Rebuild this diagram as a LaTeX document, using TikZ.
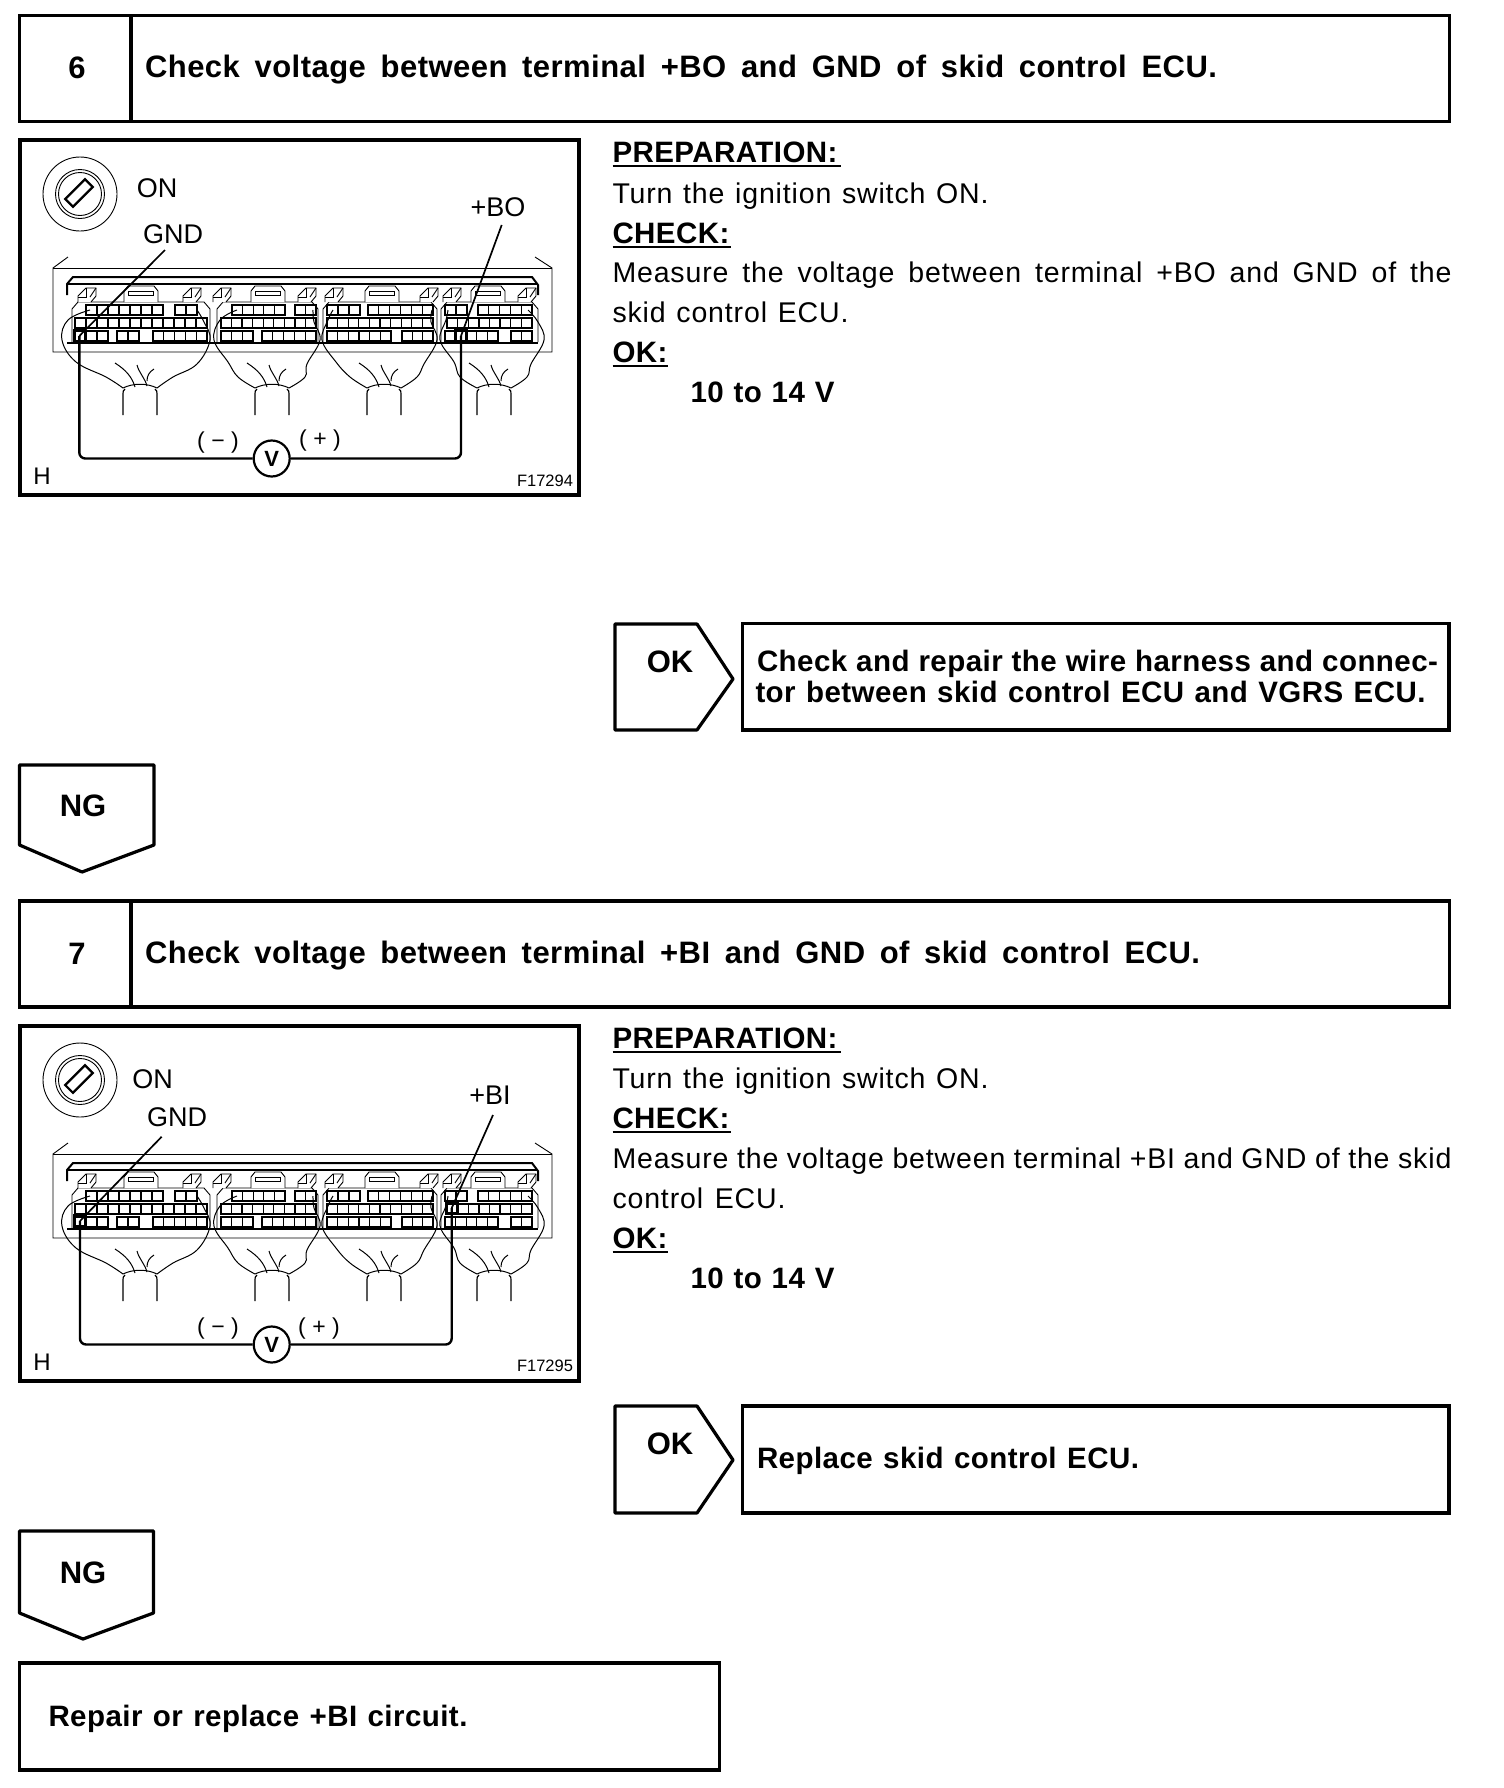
\documentclass[tikz,border=0pt]{standalone}
\usepackage{fontspec}
\setmainfont{Liberation Sans}
\newfontfamily\spaced[LetterSpace=3]{Liberation Sans}
\newfontfamily\tight[LetterSpace=1.5]{Liberation Sans}
\tikzset{
  boxst/.style={draw=black,line width=3.2,rectangle,inner sep=0,outer sep=0},
  frame/.style={draw=black,line width=3.2},
  thinl/.style={draw=black,line width=0.9},
  wire/.style={draw=black,line width=1},
  cellst/.style={draw=black,line width=1.3},
  thick2/.style={draw=black,line width=2},
  leader/.style={draw=black,line width=1.7},
  probe/.style={draw=black,line width=2.4,rounded corners=6},
  pinbox/.style={draw=black,line width=2.6,rectangle,inner sep=0,minimum size=11},
  meter/.style={draw=black,fill=white,line width=2.2,circle,inner sep=0,minimum size=36,font=\fontsize{22}{22}\selectfont\bfseries},
  txt/.style={anchor=base west,inner sep=0,outer sep=0},
  lab/.style={anchor=center,inner sep=0,outer sep=0},
  ul/.style={draw=black,line width=2}
}
\newcommand{\bodyfont}{\spaced\fontsize{28.5}{28.5}\selectfont}
\newcommand{\boldfont}{\tight\fontsize{29.5}{29.5}\selectfont\bfseries}
\newcommand{\headfont}{\tight\fontsize{31}{31}\selectfont\bfseries}
\newcommand{\labfont}{\fontsize{27}{27}\selectfont}
\newcommand{\boxlabfont}{\fontsize{31}{31}\selectfont\bfseries}
\newcommand{\txr}[5]{\node[txt,font=\bodyfont] (#1) at (#2,#3) {\makebox[#4pt][s]{\spaceskip=.278em plus 1em minus .12em\relax #5}};}
\newcommand{\txb}[5]{\node[txt,font=\boldfont] (#1) at (#2,#3) {\makebox[#4pt][s]{\spaceskip=.278em plus 1em minus .12em\relax #5}};}
\newcommand{\txh}[5]{\node[txt,font=\headfont] (#1) at (#2,#3) {\makebox[#4pt][s]{\spaceskip=.278em plus 1em minus .12em\relax #5}};}
\newcommand{\cells}[4]{%
  \draw[cellst] (#1,#3) rectangle (#2,{#3+10});
  \foreach \i in {1,...,#4} {\draw[cellst] ({#1+(\i-1)*(#2-#1)/#4},#3) -- ++(0,10);}
}
\newcommand{\blockline}[2]{\draw[thinl] (#1,342) -- (#1,309) -- ({#1+6},302) -- ({#2-6},302) -- (#2,309) -- (#2,342);}
\newcommand{\latch}[1]{%
  \draw[thinl,fill=white] ({#1-17},302) -- ({#1-17},291) -- ({#1-13},286) -- ({#1+13},286) -- ({#1+17},291) -- ({#1+17},302);
  \draw[thinl] ({#1-13},291) rectangle ({#1+12},295);
}
\newcommand{\clipshape}[1]{%
  \draw[thinl,fill=white] ({#1-10},302) -- ({#1-10},296) -- ({#1-2},288) -- ({#1+8},288) -- ({#1+8},296) -- ({#1+3},302);
  \draw[thinl] ({#1-2},288) -- ({#1-2},297) -- ({#1-10},297);
  \draw[thinl] ({#1+8},288) -- ({#1+2},297);
}
\newcommand{\harness}[5]{%
  \draw[wire] plot[smooth,tension=.65] coordinates {(#1,310) ({#2+6},320) (#2,340) ({#2+14},362) ({#3-17},377) (#3,388)};
  \draw[wire] plot[smooth,tension=.65] coordinates {(#4,310) ({#5-6},322) (#5,340) ({#5-13},364) ({#3+50},377) ({#3+34},388)};
  \draw[wire] (#3,388) .. controls ({#3+10},383) and ({#3+24},383) .. ({#3+34},388);
  \draw[wire,line width=1.2] (#3,415) -- (#3,394) .. controls (#3,391) .. ({#3+2},389);
  \draw[wire,line width=1.2] ({#3+34},415) -- ({#3+34},394) .. controls ({#3+34},391) .. ({#3+32},389);
  \draw[wire] ({#3-8},363) .. controls ({#3+3},370) and ({#3+9},377) .. ({#3+12},387);
  \draw[wire] ({#3+14},365) .. controls ({#3+16},373) and ({#3+22},378) .. ({#3+24},386);
  \draw[wire] ({#3+31},369) .. controls ({#3+26},372) and ({#3+24},376) .. ({#3+24},381);
}
\newcommand{\ecu}{%
  % housing
  \draw[thinl] (68,257) -- (53,268) -- (53,352) -- (552,352) -- (552,268) -- (535,257);
  \draw[thinl] (53,268) -- (552,268);
  \draw[thick2] (67,295) -- (67,284) -- (73,277) -- (532,277) -- (538,285) -- (538,295);
  \draw[thick2] (67,284) -- (538,284);
  \draw[thick2] (67,343) -- (538,343);
  % blocks
  \blockline{72}{210}\blockline{217}{318}\blockline{323}{437}\blockline{441}{538}
  \latch{141}\latch{268}\latch{382}\latch{488}
  \clipshape{88}\clipshape{193}\clipshape{223}\clipshape{308}\clipshape{335}\clipshape{430}\clipshape{453}\clipshape{528}
  % pins block 1
  \cells{86}{163}{305}{7}\cells{175}{197}{305}{2}
  \cells{75}{207}{318}{12}
  \cells{75}{108}{331}{3}\cells{117}{139}{331}{2}\cells{153}{207}{331}{5}
  % block 2
  \cells{232}{285}{305}{5}\cells{295}{316}{305}{2}
  \cells{221}{316}{318}{9}
  \cells{221}{253}{331}{3}\cells{262}{316}{331}{5}
  % block 3
  \cells{327}{360}{305}{3}\cells{368}{433}{305}{6}
  \cells{327}{433}{318}{10}
  \cells{327}{391}{331}{6}\cells{402}{433}{331}{3}
  % block 4
  \cells{445}{467}{305}{2}\cells{478}{532}{305}{5}
  \cells{447}{532}{318}{8}
  \cells{445}{498}{331}{5}\cells{511}{532}{331}{2}
  % harness
  \harness{90}{62}{123}{197}{210}
  \harness{237}{214}{255}{313}{320}
  \harness{333}{322}{367}{432}{437}
  \harness{448}{440}{477}{528}{544}
  % key switch
  \draw[thinl] (80,194) circle (37);
  \draw[thinl] (80,194) circle (24.5);
  \draw[thinl] (80,194) circle (21.5);
  \draw[draw=black,line width=2.2,rotate around={45:(79,193)}] (65,187.5) rectangle (93,198.5);
}
\begin{document}
\begin{tikzpicture}[x=1pt,y=-1pt]
\useasboundingbox (0,0) rectangle (1504,1788);

% ---------- step 6 ----------
\node[boxst,minimum width=1430,minimum height=106] (head6) at (734.5,68.5) {};
\draw[frame] (131,15.5) -- (131,121.5);
\node[lab,font=\boxlabfont] (n6) at (77,68) {6};
\txh{t6}{145}{77.5}{1072}{Check voltage between terminal +BO and GND of skid control ECU.}

\node[boxst,minimum width=559,minimum height=355] (fig6) at (299.5,317.5) {};
\begin{scope}\ecu\end{scope}
\node[lab,font=\labfont] (on6) at (157,188) {ON};
\node[lab,font=\labfont] (gnd6) at (173,234) {GND};
\node[lab,font=\labfont] (bo6) at (498,207) {+BO};
\node[pinbox] (gp6) at (79.3,336) {};
\node[pinbox] (bp6) at (461,336) {};
\coordinate (gl6) at (165,250);
\coordinate (bl6) at (501.7,225);
\draw[leader] (gl6) -- (gp6.center);
\draw[leader] (bl6) -- (bp6.center);
\node[meter] (vm6) at (271.7,458.5) {V};
\draw[probe] (gp6.center) |- (vm6.west);
\draw[probe] (bp6.center) |- (vm6.east);
\node[lab,font=\fontsize{23}{23}\selectfont] (neg6) at (218,443) {(\;−\;)};
\node[lab,font=\fontsize{23}{23}\selectfont] (pos6) at (320,441) {(\;+\;)};
\node[lab,font=\fontsize{24}{24}\selectfont] (h6) at (42,476) {H};
\node[lab,font=\fontsize{16.5}{16.5}\selectfont] (f6) at (545,480.5) {F17294};

\txb{p6}{612.5}{162}{227}{PREPARATION:}
\draw[ul] (p6.base west)++(0,3.5) -- ++(228,0);
\txr{a6}{612.5}{203}{376}{Turn the ignition switch ON.}
\txb{c6}{612.5}{243}{117}{CHECK:}
\draw[ul] (c6.base west)++(0,3.5) -- ++(118,0);
\txr{m6}{612.5}{282.5}{839}{Measure the voltage between terminal +BO and GND of the}
\txr{s6}{612.5}{322}{236}{skid control ECU.}
\txb{o6}{612.5}{362}{55}{OK:}
\draw[ul] (o6.base west)++(0,3.5) -- ++(55,0);
\txb{v6}{690.5}{402}{144}{10 to 14 V}

% OK 6
\draw[frame,line join=round] (615,624) -- (697,624) -- (733,679) -- (697,730) -- (615,730) -- cycle;
\node[lab,font=\boxlabfont] (ok6) at (670,662) {OK};
\node[boxst,minimum width=706.5,minimum height=106.5] (r6) at (1095.75,676.75) {};
\txb{r6a}{757}{671.5}{681}{Check and repair the wire harness and connec-}
\txb{r6b}{755.5}{702}{670}{tor between skid control ECU and VGRS ECU.}

% NG 6
\draw[frame,line join=round] (19.5,765) -- (154,765) -- (154,845) -- (82,872) -- (19.5,845) -- cycle;
\node[lab,font=\boxlabfont] (ng6) at (83,806) {NG};

% ---------- step 7 ----------
\node[boxst,minimum width=1430,minimum height=106] (head7) at (734.5,954) {};
\draw[frame] (131,901) -- (131,1007);
\node[lab,font=\boxlabfont] (n7) at (77,954) {7};
\txh{t7}{145}{963.5}{1055}{Check voltage between terminal +BI and GND of skid control ECU.}

\node[boxst,minimum width=559,minimum height=355] (fig7) at (299.5,1203.5) {};
\begin{scope}[shift={(0,886)}]\ecu\end{scope}
\node[lab,font=\labfont] (on7) at (152.5,1079) {ON};
\node[lab,font=\labfont] (gnd7) at (177,1117) {GND};
\node[lab,font=\labfont] (bi7) at (490,1095) {+BI};
\node[pinbox] (gp7) at (80,1221) {};
\node[pinbox] (bp7) at (451.7,1208) {};
\coordinate (gl7) at (161.7,1136.7);
\coordinate (bl7) at (493,1115);
\draw[leader] (gl7) -- (gp7.center);
\draw[leader] (bl7) -- (bp7.center);
\node[meter] (vm7) at (271.7,1344.5) {V};
\draw[probe] (gp7.center) |- (vm7.west);
\draw[probe] (bp7.center) |- (vm7.east);
\node[lab,font=\fontsize{23}{23}\selectfont] (neg7) at (218,1328.5) {(\;−\;)};
\node[lab,font=\fontsize{23}{23}\selectfont] (pos7) at (319,1328.5) {(\;+\;)};
\node[lab,font=\fontsize{24}{24}\selectfont] (h7) at (42,1362) {H};
\node[lab,font=\fontsize{16.5}{16.5}\selectfont] (f7) at (545,1366) {F17295};

\txb{p7}{612.5}{1048}{227}{PREPARATION:}
\draw[ul] (p7.base west)++(0,3.5) -- ++(228,0);
\txr{a7}{612.5}{1088.5}{376}{Turn the ignition switch ON.}
\txb{c7}{612.5}{1128.5}{117}{CHECK:}
\draw[ul] (c7.base west)++(0,3.5) -- ++(118,0);
\txr{m7}{612.5}{1168.5}{839}{Measure the voltage between terminal +BI and GND of the skid}
\txr{s7}{612.5}{1208}{173}{control ECU.}
\txb{o7}{612.5}{1248}{55}{OK:}
\draw[ul] (o7.base west)++(0,3.5) -- ++(55,0);
\txb{v7}{690.5}{1288}{144}{10 to 14 V}

% OK 7
\draw[frame,line join=round] (615,1406) -- (697,1406) -- (733,1460) -- (697,1513) -- (615,1513) -- cycle;
\node[lab,font=\boxlabfont] (ok7) at (670,1444) {OK};
\node[boxst,minimum width=706.5,minimum height=107] (r7) at (1095.75,1459.5) {};
\txb{r7a}{757}{1468}{382}{Replace skid control ECU.}

% NG 7
\draw[frame,line join=round] (19.5,1531) -- (153.5,1531) -- (153.5,1613) -- (83,1639) -- (19.5,1613) -- cycle;
\node[lab,font=\boxlabfont] (ng7) at (83,1572.5) {NG};
\node[boxst,minimum width=700,minimum height=107] (r8) at (369.5,1716.5) {};
\txb{r8a}{48.5}{1726.5}{419}{Repair or replace +BI circuit.}
\end{tikzpicture}
\end{document}
